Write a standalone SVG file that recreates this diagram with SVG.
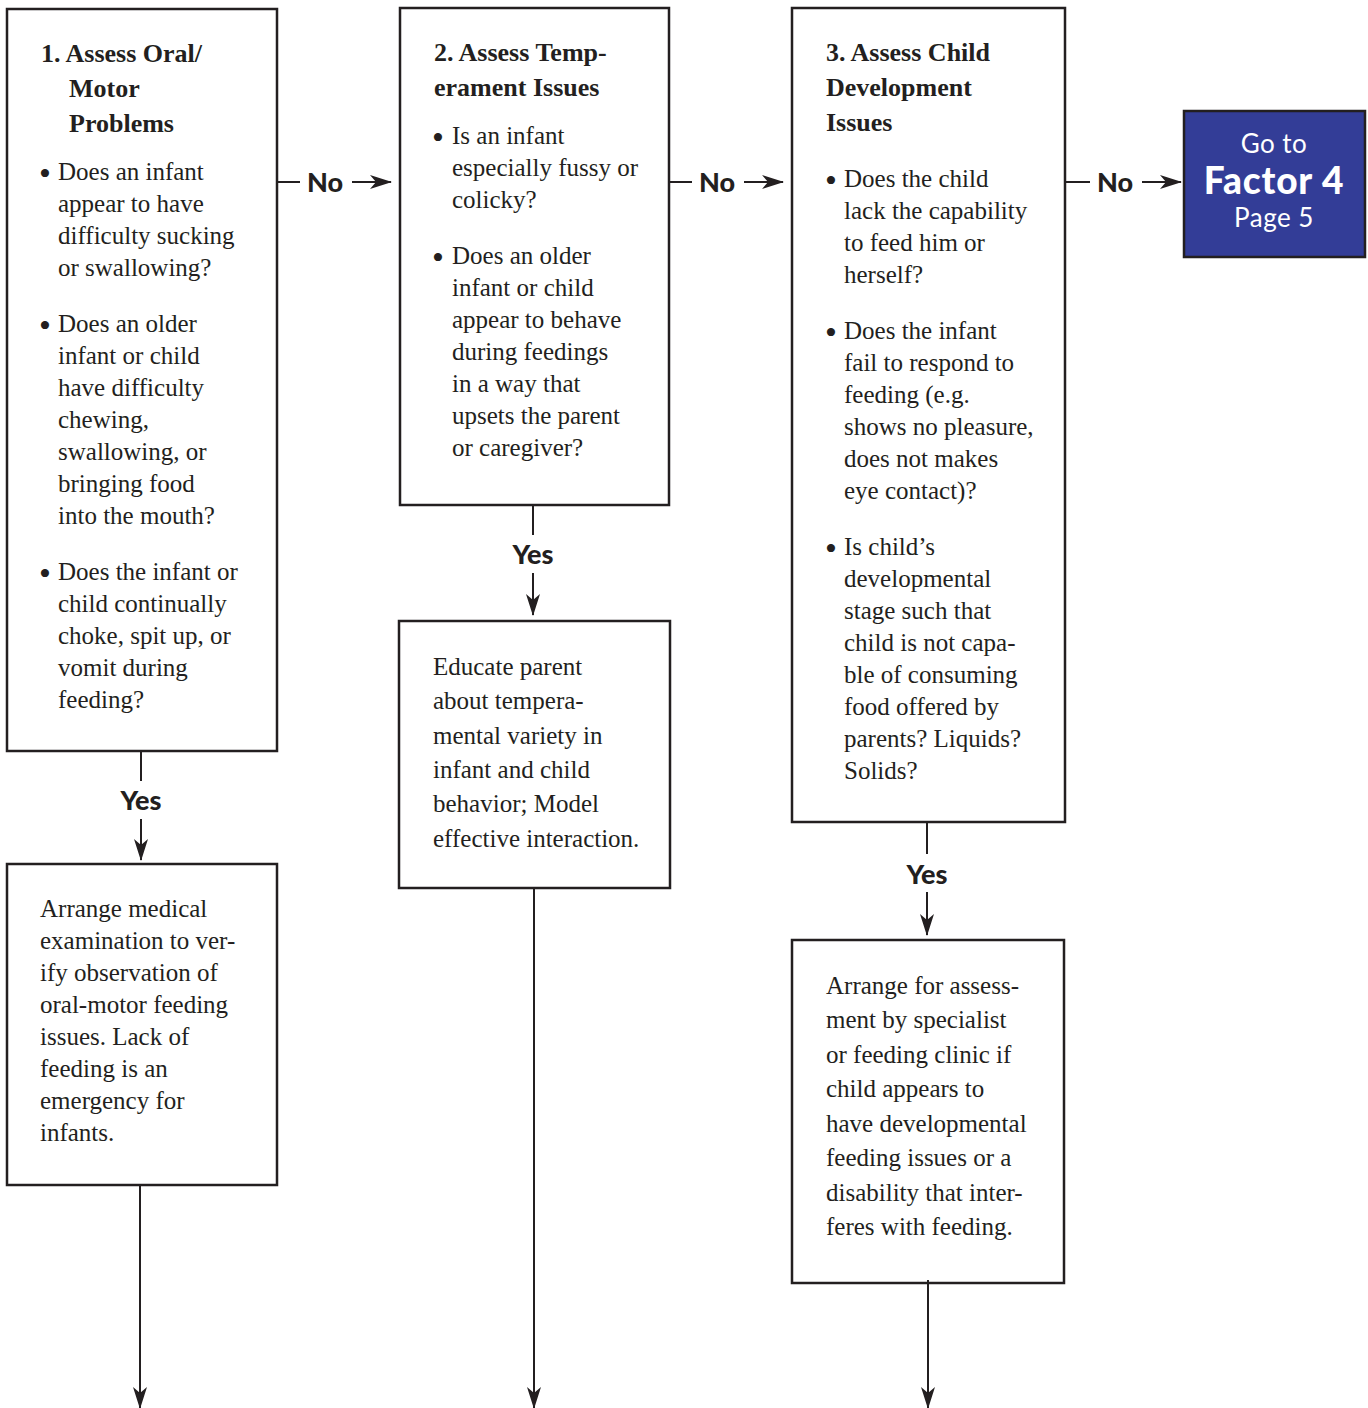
<svg xmlns="http://www.w3.org/2000/svg" width="1368" height="1408" viewBox="0 0 1368 1408">
  <style>
    .box { fill: #ffffff; stroke: #231f20; stroke-width: 2.5; }
    .goto { fill: #333d97; stroke: #231f20; stroke-width: 2.5; }
    .t { font-family: "Liberation Serif", "Times New Roman", serif; font-size: 25px; fill: #231f20; }
    .b { font-family: "Liberation Serif", "Times New Roman", serif; font-size: 34px; fill: #231f20; }
    .h { font-family: "Liberation Serif", "Times New Roman", serif; font-size: 26px; font-weight: bold; fill: #231f20; }
    .lbl { font-family: Lato, "Liberation Sans", sans-serif; font-size: 27px; font-weight: 900; fill: #231f20; }
    .wt { font-family: Lato, "Liberation Sans", sans-serif; fill: #ffffff; text-anchor: middle; }
    .ln { stroke: #231f20; stroke-width: 2; fill: none; }
    .arr { stroke: #231f20; stroke-width: 2; fill: none; marker-end: url(#head); }
  </style>
  <defs>
    <marker id="head" viewBox="0 0 22 14" refX="21" refY="7" markerWidth="22" markerHeight="14" markerUnits="userSpaceOnUse" orient="auto">
      <path d="M0,0 L22,7 L0,14 L6,7 Z" fill="#231f20"/>
    </marker>
  </defs>

  <!-- Column 1: oral / motor -->
  <g id="assess-oral-motor">
    <rect class="box" x="7" y="9" width="270" height="742"/>
    <text class="h" x="41" y="62">1. Assess Oral/</text>
    <text class="h" x="69" y="97">Motor</text>
    <text class="h" x="69" y="132">Problems</text>
    <text class="b" x="39" y="185">•</text>
    <text class="t" x="58" y="180">Does an infant</text>
    <text class="t" x="58" y="212">appear to have</text>
    <text class="t" x="58" y="244">difficulty sucking</text>
    <text class="t" x="58" y="276">or swallowing?</text>
    <text class="b" x="39" y="337">•</text>
    <text class="t" x="58" y="332">Does an older</text>
    <text class="t" x="58" y="364">infant or child</text>
    <text class="t" x="58" y="396">have difficulty</text>
    <text class="t" x="58" y="428">chewing,</text>
    <text class="t" x="58" y="460">swallowing, or</text>
    <text class="t" x="58" y="492">bringing food</text>
    <text class="t" x="58" y="524">into the mouth?</text>
    <text class="b" x="39" y="585">•</text>
    <text class="t" x="58" y="580">Does the infant or</text>
    <text class="t" x="58" y="612">child continually</text>
    <text class="t" x="58" y="644">choke, spit up, or</text>
    <text class="t" x="58" y="676">vomit during</text>
    <text class="t" x="58" y="708">feeding?</text>
  </g>

  <g id="arrange-medical-exam">
    <rect class="box" x="7" y="864" width="270" height="321"/>
    <text class="t" x="40" y="917">Arrange medical</text>
    <text class="t" x="40" y="949">examination to ver-</text>
    <text class="t" x="40" y="981">ify observation of</text>
    <text class="t" x="40" y="1013">oral-motor feeding</text>
    <text class="t" x="40" y="1045">issues. Lack of</text>
    <text class="t" x="40" y="1077">feeding is an</text>
    <text class="t" x="40" y="1109">emergency for</text>
    <text class="t" x="40" y="1141">infants.</text>
  </g>

  <!-- Column 2: temperament -->
  <g id="assess-temperament">
    <rect class="box" x="400" y="8" width="269" height="497"/>
    <text class="h" x="434" y="61">2. Assess Temp-</text>
    <text class="h" x="434" y="96">erament Issues</text>
    <text class="b" x="432" y="149">•</text>
    <text class="t" x="452" y="144">Is an infant</text>
    <text class="t" x="452" y="176">especially fussy or</text>
    <text class="t" x="452" y="208">colicky?</text>
    <text class="b" x="432" y="269">•</text>
    <text class="t" x="452" y="264">Does an older</text>
    <text class="t" x="452" y="296">infant or child</text>
    <text class="t" x="452" y="328">appear to behave</text>
    <text class="t" x="452" y="360">during feedings</text>
    <text class="t" x="452" y="392">in a way that</text>
    <text class="t" x="452" y="424">upsets the parent</text>
    <text class="t" x="452" y="456">or caregiver?</text>
  </g>

  <g id="educate-parent">
    <rect class="box" x="399" y="621" width="271" height="267"/>
    <text class="t" x="433" y="675">Educate parent</text>
    <text class="t" x="433" y="709">about tempera-</text>
    <text class="t" x="433" y="744">mental variety in</text>
    <text class="t" x="433" y="778">infant and child</text>
    <text class="t" x="433" y="812">behavior; Model</text>
    <text class="t" x="433" y="847">effective interaction.</text>
  </g>

  <!-- Column 3: child development -->
  <g id="assess-child-development">
    <rect class="box" x="792" y="8" width="273" height="814"/>
    <text class="h" x="826" y="61">3. Assess Child</text>
    <text class="h" x="826" y="96">Development</text>
    <text class="h" x="826" y="131">Issues</text>
    <text class="b" x="825" y="192">•</text>
    <text class="t" x="844" y="187">Does the child</text>
    <text class="t" x="844" y="219">lack the capability</text>
    <text class="t" x="844" y="251">to feed him or</text>
    <text class="t" x="844" y="283">herself?</text>
    <text class="b" x="825" y="344">•</text>
    <text class="t" x="844" y="339">Does the infant</text>
    <text class="t" x="844" y="371">fail to respond to</text>
    <text class="t" x="844" y="403">feeding (e.g.</text>
    <text class="t" x="844" y="435">shows no pleasure,</text>
    <text class="t" x="844" y="467">does not makes</text>
    <text class="t" x="844" y="499">eye contact)?</text>
    <text class="b" x="825" y="560">•</text>
    <text class="t" x="844" y="555">Is child’s</text>
    <text class="t" x="844" y="587">developmental</text>
    <text class="t" x="844" y="619">stage such that</text>
    <text class="t" x="844" y="651">child is not capa-</text>
    <text class="t" x="844" y="683">ble of consuming</text>
    <text class="t" x="844" y="715">food offered by</text>
    <text class="t" x="844" y="747">parents? Liquids?</text>
    <text class="t" x="844" y="779">Solids?</text>
  </g>

  <g id="arrange-specialist">
    <rect class="box" x="792" y="940" width="272" height="343"/>
    <text class="t" x="826" y="994">Arrange for assess-</text>
    <text class="t" x="826" y="1028">ment by specialist</text>
    <text class="t" x="826" y="1063">or feeding clinic if</text>
    <text class="t" x="826" y="1097">child appears to</text>
    <text class="t" x="826" y="1132">have developmental</text>
    <text class="t" x="826" y="1166">feeding issues or a</text>
    <text class="t" x="826" y="1201">disability that inter-</text>
    <text class="t" x="826" y="1235">feres with feeding.</text>
  </g>

  <!-- Exit to the next factor -->
  <g id="go-to-factor-4">
    <rect class="goto" x="1184" y="111" width="181" height="146"/>
    <text class="wt" x="1274" y="153" font-size="26" letter-spacing="0.5">Go to</text>
    <text class="wt" x="1274" y="194" font-size="37" font-weight="900" letter-spacing="0.8">Factor 4</text>
    <text class="wt" x="1274" y="227" font-size="26" letter-spacing="0.5">Page 5</text>
  </g>

  <!-- Connectors -->
  <g id="connectors">
    <!-- "No" branches -->
    <line class="ln" x1="277" y1="182" x2="300" y2="182"/>
    <text class="lbl" x="307" y="192">No</text>
    <line class="arr" x1="352" y1="182" x2="391" y2="182"/>
    <line class="ln" x1="669" y1="182" x2="692" y2="182"/>
    <text class="lbl" x="699" y="192">No</text>
    <line class="arr" x1="744" y1="182" x2="783" y2="182"/>
    <line class="ln" x1="1065" y1="182" x2="1090" y2="182"/>
    <text class="lbl" x="1097" y="192">No</text>
    <line class="arr" x1="1142" y1="182" x2="1181" y2="182"/>

    <!-- "Yes" branches -->
    <line class="ln" x1="141" y1="751" x2="141" y2="781"/>
    <text class="lbl" x="141" y="810" text-anchor="middle">Yes</text>
    <line class="arr" x1="141" y1="819" x2="141" y2="860"/>
    <line class="ln" x1="533" y1="505" x2="533" y2="535"/>
    <text class="lbl" x="533" y="564" text-anchor="middle">Yes</text>
    <line class="arr" x1="533" y1="573" x2="533" y2="615"/>
    <line class="ln" x1="927" y1="822" x2="927" y2="854"/>
    <text class="lbl" x="927" y="884" text-anchor="middle">Yes</text>
    <line class="arr" x1="927" y1="892" x2="927" y2="935"/>

    <!-- Onward flow at the bottom -->
    <line class="arr" x1="140" y1="1185" x2="140" y2="1408"/>
    <line class="arr" x1="534" y1="888" x2="534" y2="1408"/>
    <line class="arr" x1="928" y1="1280" x2="928" y2="1408"/>
  </g>
</svg>
